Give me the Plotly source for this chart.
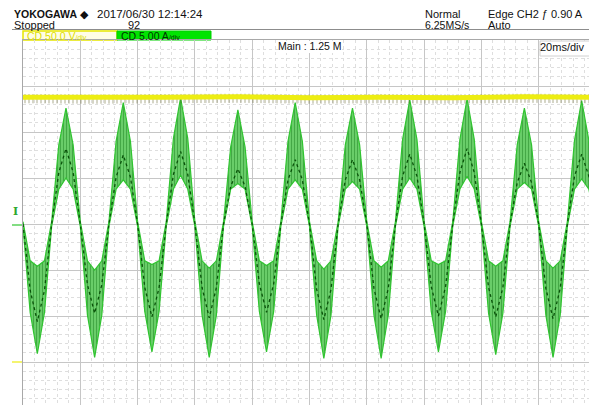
import plotly.graph_objects as go

# ---------------- data ----------------
# time axis of the current envelope samples, ms (20 ms/div, 10 div)
t_ms = [0, 2.5, 5, 7.5, 10, 12.5, 15, 17.5,
        20, 22.5, 25, 27.5, 30, 32.5, 35, 37.5,
        40, 42.5, 45, 47.5, 50, 52.5, 55, 57.5,
        60, 62.5, 65, 67.5, 70, 72.5, 75, 77.5,
        80, 82.5, 85, 87.5, 90, 92.5, 95, 97.5,
        100, 102.5, 105, 107.5, 110, 112.5, 115, 117.5,
        120, 122.5, 125, 127.5, 130, 132.5, 135, 137.5,
        140, 142.5, 145, 147.5, 150, 152.5, 155, 157.5,
        160, 162.5, 165, 167.5, 170, 172.5, 175, 177.5,
        180, 182.5, 185, 187.5, 190, 192.5, 195, 197.5,
        200]

# CH2 current, upper edge of the ripple band (A)
i_hi = [0.25, -4.0, -4.6, -4.0, 0.25, 8.6, 12.6, 8.6,
        0.25, -4.0, -5.0, -4.0, 0.25, 9.0, 13.2, 9.0,
        0.25, -4.0, -4.4, -4.0, 0.25, 9.3, 13.7, 9.3,
        0.25, -4.0, -4.8, -4.0, 0.25, 8.4, 12.4, 8.4,
        0.25, -4.0, -4.5, -4.0, 0.25, 9.0, 13.2, 9.0,
        0.25, -4.0, -4.9, -4.0, 0.25, 8.6, 12.6, 8.6,
        0.25, -4.0, -4.7, -4.0, 0.25, 9.2, 13.5, 9.2,
        0.25, -4.0, -4.4, -4.0, 0.25, 9.2, 13.6, 9.2,
        0.25, -4.0, -4.6, -4.0, 0.25, 8.6, 12.6, 8.6,
        0.25, -4.0, -4.8, -4.0, 0.25, 9.1, 13.4, 9.1,
        0.25]

# CH2 current, lower edge of the ripple band (A)
i_lo = [-0.25, -9.6, -14.1, -9.6, -0.25, 3.8, 5.0, 3.8,
        -0.25, -9.9, -14.5, -9.9, -0.25, 3.8, 4.8, 3.8,
        -0.25, -9.5, -13.9, -9.5, -0.25, 3.8, 5.3, 3.8,
        -0.25, -9.9, -14.5, -9.9, -0.25, 3.8, 4.4, 3.8,
        -0.25, -9.5, -13.9, -9.5, -0.25, 3.8, 4.8, 3.8,
        -0.25, -9.9, -14.6, -9.9, -0.25, 3.8, 4.6, 3.8,
        -0.25, -9.9, -14.6, -9.9, -0.25, 3.8, 5.0, 3.8,
        -0.25, -9.5, -13.9, -9.5, -0.25, 3.8, 5.2, 3.8,
        -0.25, -9.7, -14.2, -9.7, -0.25, 3.8, 4.5, 3.8,
        -0.25, -9.9, -14.5, -9.9, -0.25, 3.8, 4.9, 3.8,
        -0.25]

# CH2 current, averaged (dark) trace (A)
i_mean = [0, -7.2, -10.6, -7.2, 0, 5.6, 8.2, 5.6,
          0, -6.6, -9.7, -6.6, 0, 5.1, 7.5, 5.1,
          0, -6.9, -10.1, -6.9, 0, 5.4, 7.9, 5.4,
          0, -6.9, -10.2, -6.9, 0, 4.1, 6.0, 4.1,
          0, -6.5, -9.6, -6.5, 0, 4.8, 7.0, 4.8,
          0, -7.1, -10.4, -7.1, 0, 4.8, 7.0, 4.8,
          0, -7.0, -10.3, -7.0, 0, 5.2, 7.6, 5.2,
          0, -6.8, -10.0, -6.8, 0, 5.6, 8.2, 5.6,
          0, -6.9, -10.1, -6.9, 0, 4.5, 6.6, 4.5,
          0, -7.0, -10.3, -7.0, 0, 5.2, 7.6, 5.2,
          0]

# CH1 voltage (V)
v_t = [0, 25, 50, 75, 100, 125, 150, 175, 200]
v_val = [291, 290.5, 291, 291.5, 290.5, 291, 290.5, 291.5, 291]
v_noise_lo = [284.5, 284, 284.5, 285, 284, 284.5, 284, 285, 284.5]
v_noise_hi = [294.5, 294, 294.5, 295, 294, 294.5, 294, 295, 294.5]

# ---------------- geometry helpers ----------------
OFF = 8                      # page body margin of the html page
W, H = 597 - OFF, 405 - OFF  # figure size so that it ends at the window edge
PL, PR, PT, PB = 23, 596, 40, 405  # plot area, absolute window pixels
PW, PH = PR - PL, PB - PT


def px(x):
    return (x - PL) / PW


def py(y):
    return (PB - y) / PH


FONT = "Liberation Sans, Arial, sans-serif"
GREEN_EDGE = "#30c430"

fig = go.Figure()

# current ripple band
fig.add_trace(go.Scatter(x=t_ms, y=i_lo, mode="lines",
                         line=dict(color=GREEN_EDGE, width=1.2), hoverinfo="skip"))
fig.add_trace(go.Scatter(x=t_ms, y=i_hi, mode="lines", fill="tonexty",
                         fillcolor="#6ed26e",
                         fillpattern=dict(shape="|", fgcolor="#1a7d1e", bgcolor="#6ed26e",
                                          size=3, solidity=0.42),
                         line=dict(color=GREEN_EDGE, width=1.2), hoverinfo="skip"))
fig.add_trace(go.Scatter(x=t_ms, y=i_mean, mode="lines",
                         line=dict(color="#0a520a", width=1.3, dash="dot"), hoverinfo="skip"))

# ground marker CH2 (0 A)
fig.add_trace(go.Scatter(x=[-1.9], y=[0], mode="markers", cliponaxis=False,
                         marker=dict(symbol="triangle-down", size=7, color="#5ad25a"),
                         hoverinfo="skip"))

# voltage trace on second axis
fig.add_trace(go.Scatter(x=v_t, y=v_noise_lo, yaxis="y2", mode="lines",
                         line=dict(width=0, color="rgba(0,0,0,0)"), hoverinfo="skip"))
fig.add_trace(go.Scatter(x=v_t, y=v_noise_hi, yaxis="y2", mode="lines", fill="tonexty",
                         fillcolor="rgba(0,0,0,0)",
                         fillpattern=dict(shape="|", fgcolor="#55551c", bgcolor="rgba(0,0,0,0)",
                                          size=4, solidity=0.25),
                         line=dict(width=0, color="rgba(0,0,0,0)"), hoverinfo="skip"))
fig.add_trace(go.Scatter(x=v_t, y=v_val, yaxis="y2", mode="lines",
                         line=dict(color="#eded12", width=5), hoverinfo="skip"))
fig.add_trace(go.Scatter(x=[-1.9], y=[0], yaxis="y2", mode="markers", cliponaxis=False,
                         marker=dict(symbol="triangle-down", size=7, color="#f0f040"),
                         hoverinfo="skip"))

ann = []


def text(x, y, s, size=11, color="#111", anchor="left", family=FONT):
    ann.append(dict(x=px(x), y=py(y), xref="paper", yref="paper", text=s, showarrow=False,
                    xanchor=anchor, yanchor="middle", borderpad=0,
                    font=dict(family=family, size=size, color=color)))


text(13, 14.5, "<b>YOKOGAWA</b> ◆", 10.5)
text(96, 14.5, "2017/06/30 12:14:24", 11.5)
text(13, 25, "Stopped", 11)
text(127, 25, "92", 11)
text(424, 14, "Normal", 11)
text(424, 25, "6.25MS/s", 10.5)
text(487, 14, "Edge CH2 ƒ 0.90 A", 11)
text(487, 25, "Auto", 11)
text(26, 35.5, "CD 50.0 V<span style='font-size:7px'>/div</span>", 10.5, color="#dede00")
text(120, 35.5, "CD 5.00 A<span style='font-size:7px'>/div</span>", 10.5, color="#003300")
text(310, 46.5, "Main : 1.25 M", 10.5, anchor="center")
text(586, 47.5, "20ms/div", 11, anchor="right")
text(15, 211, "<b>I</b>", 11, color="#2ea82e", anchor="center", family="DejaVu Serif")

shapes = [
    # header separator line
    dict(type="line", xref="paper", yref="paper", x0=px(12), x1=px(597), y0=py(29.5), y1=py(29.5),
         line=dict(color="#8c8c8c", width=1)),
    # CH1 box
    dict(type="rect", xref="paper", yref="paper", x0=px(23), x1=px(117), y0=py(40), y1=py(31),
         fillcolor="#fffde6", line=dict(color="#e6e600", width=1.5), layer="below"),
    # CH2 box
    dict(type="rect", xref="paper", yref="paper", x0=px(117), x1=px(211), y0=py(40), y1=py(31),
         fillcolor="#00e400", line=dict(color="#00d000", width=1), layer="below"),
    # Main label background
    dict(type="rect", xref="paper", yref="paper", x0=px(280), x1=px(342), y0=py(53), y1=py(41),
         fillcolor="white", line=dict(width=0), layer="above"),
    # time/div label background
    dict(type="rect", xref="paper", yref="paper", x0=px(540), x1=px(595), y0=py(56), y1=py(41),
         fillcolor="white", line=dict(color="#d0d0d0", width=1), layer="above"),
    # CH2 ground bar
    dict(type="line", xref="paper", yref="paper", x0=px(12), x1=px(22), y0=py(225), y1=py(225),
         line=dict(color="#5ad25a", width=1.5)),
    # CH1 ground bar
    dict(type="line", xref="paper", yref="paper", x0=px(12), x1=px(22), y0=py(362), y1=py(362),
         line=dict(color="#f0f040", width=1.5)),
]

fig.update_layout(
    width=W, height=H, autosize=False,
    margin=dict(l=PL - OFF, r=597 - PR, t=PT - OFF, b=0, pad=0),
    paper_bgcolor="white", plot_bgcolor="white",
    showlegend=False,
    annotations=ann, shapes=shapes,
    xaxis=dict(range=[0, 200], dtick=20, tick0=0, showgrid=True, gridcolor="#c6c6c6", gridwidth=1,
               minor=dict(dtick=4, showgrid=True, gridcolor="#dedede", griddash="dot", gridwidth=1),
               showticklabels=False, ticks="", zeroline=False, side="top",
               showline=True, linecolor="#a8a8a8", linewidth=1, fixedrange=True),
    yaxis=dict(range=[-19.67, 20], dtick=5, tick0=0, showgrid=True, gridcolor="#c6c6c6", gridwidth=1,
               minor=dict(dtick=1, showgrid=True, gridcolor="#dedede", griddash="dot", gridwidth=1),
               showticklabels=False, ticks="", zeroline=False,
               showline=True, mirror=True, linecolor="#a8a8a8", linewidth=1, fixedrange=True),
    yaxis2=dict(range=[-43.4, 353.3], overlaying="y", showgrid=False, showticklabels=False,
                ticks="", zeroline=False, showline=False, fixedrange=True),
)

fig.write_html("out.html")
